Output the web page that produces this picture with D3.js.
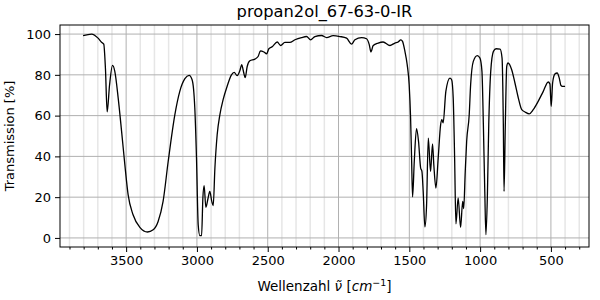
<!DOCTYPE html>
<html>
<head>
<meta charset="utf-8">
<script src="https://cdn.jsdelivr.net/npm/d3@7"></script>
<style>
  body { margin: 0; background: #fff; }
  svg { font-family: 'DejaVu Sans', sans-serif; }
</style>
</head>
<body>
<div class="canvas"></div>
<script>
// spectrum (wavenumber in cm^-1, transmission in %)
const wavenumbers = [3804, 3744, 3698, 3674, 3658, 3646, 3634, 3617, 3596, 3580, 3556, 3532, 3509, 3486, 3451, 3403, 3349, 3309, 3274, 3239, 3203, 3156, 3121, 3085, 3055, 3034, 3015, 3003, 2991, 2979, 2967, 2958, 2949, 2937, 2921, 2909, 2895, 2885, 2873, 2857, 2838, 2815, 2787, 2756, 2737, 2716, 2697, 2683, 2674, 2659, 2645, 2626, 2591, 2568, 2551, 2527, 2508, 2492, 2466, 2433, 2409, 2379, 2344, 2308, 2261, 2226, 2197, 2167, 2120, 2084, 2038, 1990, 1943, 1908, 1884, 1837, 1802, 1783, 1771, 1755, 1720, 1685, 1637, 1602, 1579, 1560, 1548, 1531, 1515, 1501, 1491, 1484, 1477, 1465, 1449, 1435, 1420, 1411, 1402, 1390, 1378, 1366, 1350, 1336, 1327, 1312, 1296, 1279, 1270, 1261, 1242, 1213, 1201, 1190, 1180, 1171, 1155, 1138, 1123, 1116, 1105, 1095, 1077, 1067, 1048, 1020, 1001, 987, 977, 967, 959, 949, 939, 925, 906, 887, 859, 845, 836, 831, 822, 812, 803, 777, 754, 730, 706, 683, 653, 625, 590, 554, 519, 507, 498, 488, 472, 456, 441, 429, 413, 400];
const transmission = [99.2, 100, 98, 96, 95.1, 83, 61.8, 75, 84.6, 81.7, 68.6, 52.3, 35.9, 21.2, 11.4, 5.2, 2.9, 4, 8.1, 17.9, 37.5, 60.4, 71.9, 78.1, 79.7, 77.6, 63.7, 39.2, 6.5, 1.1, 1.1, 19.6, 25.6, 15, 19.6, 22.8, 17.9, 15.8, 34.3, 50.6, 60.4, 67.8, 74.3, 80, 81.2, 79.6, 82, 85, 82.5, 78.7, 84.1, 86.9, 87.7, 89, 91.8, 91.2, 90.3, 92.8, 93.9, 96.1, 94.4, 95.9, 95.9, 97.2, 98.3, 98.8, 97.2, 98.8, 99.3, 98.3, 99.2, 98.8, 98, 95.1, 97.2, 98.3, 97.7, 94.8, 91.2, 94.4, 95.6, 96.1, 94.4, 95.6, 96.1, 97.2, 96.4, 91.5, 85, 75.1, 58.8, 39.2, 20.1, 37.5, 53.6, 47.4, 34.3, 32.6, 22.8, 5.4, 16.3, 49, 32.6, 46.1, 35.9, 24.5, 39.2, 55.5, 58, 56.4, 71.9, 78.4, 77.6, 68.6, 39.2, 6.9, 19.6, 5.2, 17.9, 14.4, 32.6, 47.4, 60.4, 75.1, 86.6, 89.4, 88.2, 81.7, 55.5, 22.8, 1.6, 19.6, 55.5, 81.7, 91.5, 92.8, 92.6, 88.2, 55.5, 22.8, 55.5, 84.1, 85.8, 82.5, 76, 68.6, 62.9, 61.8, 60.9, 62.9, 67, 71.9, 76.5, 75.5, 64.5, 76, 80.4, 80.9, 78.4, 74.8, 74.3, 74.3];

const xTicks = [3500, 3000, 2500, 2000, 1500, 1000, 500];
const yTicks = [0, 20, 40, 60, 80, 100];
const xMinorTicks = d3.range(3900, 299, -100).filter(v => v % 500 !== 0);

const title = 'propan2ol_67-63-0-IR';

const dimensions = { width: 600, height: 300 };
const plot = { left: 60, right: 589, top: 25, bottom: 247 };

const svg = d3.select('.canvas')
    .append('svg')
    .attr('width', dimensions.width)
    .attr('height', dimensions.height);

// matplotlib-like 5% margins around the data range
const x = d3.scaleLinear()
    .domain([3967, 231])
    .range([plot.left, plot.right]);

const y = d3.scaleLinear()
    .domain([-4.45, 104.45])
    .range([plot.bottom, plot.top]);

// grid: minor verticals first, then majors
const grid = svg.append('g');

grid.selectAll('.minor')
    .data(xMinorTicks)
    .enter().append('line')
    .attr('x1', d => x(d)).attr('x2', d => x(d))
    .attr('y1', plot.top).attr('y2', plot.bottom)
    .attr('stroke', '#e6e6e6')
    .attr('stroke-width', 1.5);

grid.selectAll('.majorx')
    .data(xTicks)
    .enter().append('line')
    .attr('x1', d => x(d)).attr('x2', d => x(d))
    .attr('y1', plot.top).attr('y2', plot.bottom)
    .attr('stroke', '#b0b0b0')
    .attr('stroke-width', 1);

grid.selectAll('.majory')
    .data(yTicks)
    .enter().append('line')
    .attr('x1', plot.left).attr('x2', plot.right)
    .attr('y1', d => y(d)).attr('y2', d => y(d))
    .attr('stroke', '#b0b0b0')
    .attr('stroke-width', 1);

// spectrum line
const line = d3.line()
    .x((d, i) => x(wavenumbers[i]))
    .y(d => y(d))
    .curve(d3.curveMonotoneX);

svg.append('path')
    .datum(transmission)
    .attr('fill', 'none')
    .attr('stroke', '#000')
    .attr('stroke-width', 1.3)
    .attr('stroke-linejoin', 'round')
    .attr('d', line);

// axes
svg.append('g')
    .attr('transform', `translate(0, ${plot.bottom})`)
    .call(d3.axisBottom(x).tickValues(xTicks).tickFormat(d3.format('d'))
        .tickSize(5).tickPadding(4).tickSizeOuter(0));

svg.append('g')
    .attr('transform', `translate(0, ${plot.bottom})`)
    .call(d3.axisBottom(x).tickValues(xMinorTicks).tickSize(2.5).tickFormat('').tickSizeOuter(0));

svg.append('g')
    .attr('transform', `translate(${plot.left}, 0)`)
    .call(d3.axisLeft(y).tickValues(yTicks).tickSize(5).tickPadding(4).tickSizeOuter(0));

svg.selectAll('.tick text')
    .attr('font-size', 13)
    .attr('font-family', "'DejaVu Sans', sans-serif")
    .attr('fill', '#000');
svg.selectAll('.tick line').attr('stroke', '#000');
svg.selectAll('.domain').remove();

// frame
svg.append('rect')
    .attr('x', plot.left).attr('y', plot.top)
    .attr('width', plot.right - plot.left)
    .attr('height', plot.bottom - plot.top)
    .attr('fill', 'none')
    .attr('stroke', '#000')
    .attr('stroke-width', 1);

// labels
svg.append('text')
    .attr('x', (plot.left + plot.right) / 2)
    .attr('y', 17)
    .attr('text-anchor', 'middle')
    .attr('font-size', 16.3)
    .text(title);

const xLabel = svg.append('text')
    .attr('x', (plot.left + plot.right) / 2)
    .attr('y', 291)
    .attr('text-anchor', 'middle')
    .attr('font-size', 13.5);
xLabel.append('tspan').text('Wellenzahl ');
xLabel.append('tspan').attr('font-style', 'italic').text('ν̃');
xLabel.append('tspan').text(' [');
xLabel.append('tspan').attr('font-style', 'italic').text('cm');
xLabel.append('tspan').attr('font-size', 9.5).attr('dy', -5).text('−1');
xLabel.append('tspan').attr('dy', 5).text(']');

svg.append('text')
    .attr('transform', `translate(14, ${(plot.top + plot.bottom) / 2}) rotate(-90)`)
    .attr('text-anchor', 'middle')
    .attr('font-size', 13)
    .text('Transmission [%]');
</script>
</body>
</html>
